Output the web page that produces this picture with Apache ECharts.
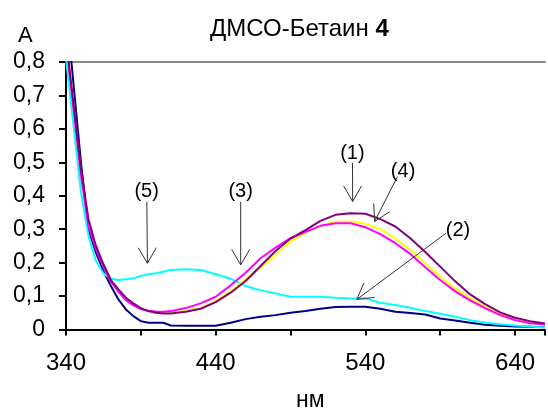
<!DOCTYPE html>
<html><head><meta charset="utf-8">
<script src="https://cdn.jsdelivr.net/npm/echarts@6/dist/echarts.min.js"></script>
<style>html,body{margin:0;padding:0;background:#fff}#c{width:548px;height:411px}</style>
</head><body><div id="c"></div>
<script>
// wavelength, nm
const wavelengths = [340,350,355,360,365,370,375,380,385,390,395,400,405,410,420,430,440,450,460,470,480,490,500,510,520,530,540,550,560,570,580,590,600,610,620,630,640,650,660];
const navySeries    = [0.97,0.50,0.30,0.23,0.175,0.13,0.09,0.06,0.04,0.025,0.02,0.02,0.02,0.012,0.011,0.011,0.011,0.02,0.031,0.038,0.043,0.05,0.055,0.062,0.067,0.068,0.068,0.062,0.053,0.049,0.045,0.033,0.027,0.02,0.014,0.011,0.009,0.008,0.007];
const cyanSeries    = [0.81,0.41,0.28,0.205,0.168,0.152,0.148,0.150,0.153,0.160,0.165,0.168,0.173,0.178,0.180,0.178,0.165,0.152,0.130,0.117,0.108,0.098,0.098,0.098,0.095,0.093,0.093,0.080,0.073,0.065,0.055,0.047,0.038,0.028,0.021,0.016,0.012,0.009,0.006];
const yellowSeries  = [0.86,0.47,0.32,0.245,0.19,0.146,0.118,0.093,0.075,0.062,0.055,0.052,0.05,0.05,0.056,0.064,0.085,0.115,0.15,0.185,0.223,0.263,0.29,0.31,0.322,0.323,0.316,0.300,0.272,0.238,0.198,0.158,0.122,0.094,0.068,0.046,0.030,0.022,0.016];
const magentaSeries = [0.86,0.46,0.31,0.24,0.188,0.143,0.113,0.088,0.072,0.061,0.056,0.054,0.053,0.055,0.064,0.078,0.098,0.132,0.17,0.213,0.245,0.273,0.292,0.31,0.318,0.318,0.306,0.285,0.258,0.226,0.186,0.148,0.114,0.087,0.064,0.043,0.028,0.019,0.015];
const purpleSeries  = [0.87,0.48,0.33,0.25,0.195,0.148,0.12,0.095,0.078,0.064,0.055,0.05,0.048,0.048,0.053,0.062,0.082,0.11,0.145,0.19,0.235,0.272,0.297,0.325,0.343,0.348,0.346,0.330,0.308,0.273,0.232,0.188,0.144,0.105,0.076,0.051,0.035,0.025,0.018];

// annotations (data coordinates: nm, A)
const annotationLabels = ['(1)','(2)','(3)','(4)','(5)'];
const annotationTextAt = [[531.3,0.525],[601.9,0.295],[456.7,0.412],[565.2,0.472],[393.9,0.412]];
const annotationFrom   = [[531.4,0.498],[593.9,0.288],[456.7,0.382],[561.4,0.457],[394.0,0.382]];
const annotationTip    = [[531.5,0.383],[534.3,0.090],[456.7,0.193],[546.2,0.323],[394.4,0.198]];

const FONT = '"Liberation Sans", Arial, sans-serif';
const chart = echarts.init(document.getElementById('c'), null, {renderer: 'canvas'});

function pairs(arr){ return wavelengths.map((w,i)=>[w, arr[i]]); }
function lineSeries(name, arr, color){
  return {name, type:'line', data: pairs(arr), showSymbol:false, symbol:'none',
    lineStyle:{color, width:2}, itemStyle:{color}, clip:true, animation:false};
}

const option = {
  animation: false,
  backgroundColor: '#fff',
  title: [
    {text: 'ДМСО-Бетаин {b|4}', left: 205, top: 12,
      textStyle:{fontFamily:FONT, fontSize:24, fontWeight:'normal', color:'#000',
        rich:{b:{fontFamily:FONT, fontSize:24, fontWeight:'bold', color:'#000'}}}},
    {text: 'A', left: 13, top: 20, textStyle:{fontFamily:FONT, fontSize:22, fontWeight:'normal', color:'#000'}},
    {text: 'нм', left: 291, top: 384, textStyle:{fontFamily:FONT, fontSize:23, fontWeight:'normal', color:'#000'}}
  ],
  grid: {left: 66, right: -10, top: 62, bottom: 81.5, containLabel:false},
  xAxis: [{
    type:'value', min:340, max:660, interval:50,
    axisLine:{show:true, onZero:false, lineStyle:{color:'#000', width:2}},
    axisTick:{show:true, length:6, lineStyle:{color:'#000', width:2}},
    splitLine:{show:false},
    axisLabel:{margin:22, fontFamily:FONT, fontSize:24, color:'#000',
      formatter: v => ((v-340)%100===0 ? String(v) : '')}
  },{
    type:'value', min:340, max:660, position:'top',
    axisLine:{show:true, onZero:false, lineStyle:{color:'#888', width:2}},
    axisTick:{show:false}, axisLabel:{show:false}, splitLine:{show:false}
  }],
  yAxis: {
    type:'value', min:0, max:0.8, interval:0.1,
    axisLine:{show:true, lineStyle:{color:'#000', width:2}},
    axisTick:{show:true, length:7, lineStyle:{color:'#000', width:2}},
    splitLine:{show:false},
    axisLabel:{margin:21, fontFamily:FONT, fontSize:23, color:'#000',
      formatter: v => (Math.abs(v)<1e-9 ? '0' : v.toFixed(1).replace('.', ','))}
  },
  series: [
    lineSeries('navy', navySeries, '#000080'),
    lineSeries('cyan', cyanSeries, '#00FFFF'),
    lineSeries('yellow', yellowSeries, '#FFFF00'),
    lineSeries('magenta', magentaSeries, '#FF00FF'),
    lineSeries('purple', purpleSeries, '#800080')
  ]
};
chart.setOption(option);

// draw arrows with labels in data coordinates
const graphics = [];
const ARM = 18, HALF = Math.PI/6;
for (let i=0;i<annotationLabels.length;i++){
  const t = chart.convertToPixel({xAxisIndex:0, yAxisIndex:0}, annotationTextAt[i]);
  const f = chart.convertToPixel({xAxisIndex:0, yAxisIndex:0}, annotationFrom[i]);
  const p = chart.convertToPixel({xAxisIndex:0, yAxisIndex:0}, annotationTip[i]);
  const ang = Math.atan2(f[1]-p[1], f[0]-p[0]);
  const a1 = [p[0]+ARM*Math.cos(ang+HALF), p[1]+ARM*Math.sin(ang+HALF)];
  const a2 = [p[0]+ARM*Math.cos(ang-HALF), p[1]+ARM*Math.sin(ang-HALF)];
  const st = {stroke:'#333', lineWidth:1};
  graphics.push({type:'line', shape:{x1:f[0],y1:f[1],x2:p[0],y2:p[1]}, style:st, silent:true, z:10});
  graphics.push({type:'polyline', shape:{points:[a1,p,a2]}, style:Object.assign({fill:null}, st), silent:true, z:10});
  graphics.push({type:'text', x:t[0], y:t[1], style:{text:annotationLabels[i], font:'20px '+FONT, fill:'#000', align:'center', verticalAlign:'middle'}, silent:true, z:11});
}
chart.setOption({graphic: graphics});
</script>
</body></html>
